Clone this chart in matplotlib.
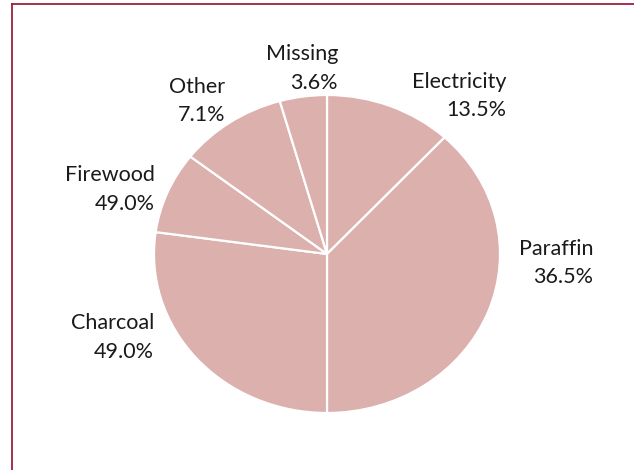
import matplotlib
matplotlib.use("Agg")
import matplotlib.pyplot as plt
from matplotlib.lines import Line2D

# fuel categories, clockwise from the top
categories = ["Electricity", "Paraffin", "Charcoal", "Firewood", "Other", "Missing"]
shares = [11.9, 38.1, 27.2, 8.3, 10.1, 4.4]          # slice sizes
pct_labels = ["13.5%", "36.5%", "49.0%", "49.0%", "7.1%", "3.6%"]   # printed labels

# label anchor (right edge, vertical centre) in pie radius units
label_pos = [(1.035, 0.994), (1.538, -0.057), (-1.0, -0.525),
             (-0.994, 0.405), (-0.59, 0.962), (0.064, 1.165)]

plt.rcParams['font.family'] = ['Lato', 'DejaVu Sans']

fig = plt.figure(figsize=(6.34, 4.70), dpi=100)
ax = fig.add_axes([0, 0, 1, 1])

ax.pie(shares, startangle=90, counterclock=False, colors=['#dbb0ad'] * len(shares),
       wedgeprops=dict(edgecolor='white', linewidth=1.6))

for cat, pct, (x, y) in zip(categories, pct_labels, label_pos):
    ax.text(x, y, cat + "\n" + pct, ha='right', va='center', fontsize=15.5,
            color='#1a1a1a', linespacing=1.55, multialignment='right')

# stretch the pie horizontally like the original
ax.set_aspect('auto')
ax.set_xlim(-327 / 173, (634 - 327) / 173)
ax.set_ylim(-216 / 159, 254 / 159)
ax.axis('off')

# maroon frame on top and left
fig.add_artist(Line2D([12 / 634, 1], [1 - 4 / 470, 1 - 4 / 470], color='#9e1c40',
                      linewidth=1.3, transform=fig.transFigure))
fig.add_artist(Line2D([12 / 634, 12 / 634], [0, 1 - 4 / 470], color='#9e1c40',
                      linewidth=1.3, transform=fig.transFigure))

fig.savefig("out.png", dpi=100)
